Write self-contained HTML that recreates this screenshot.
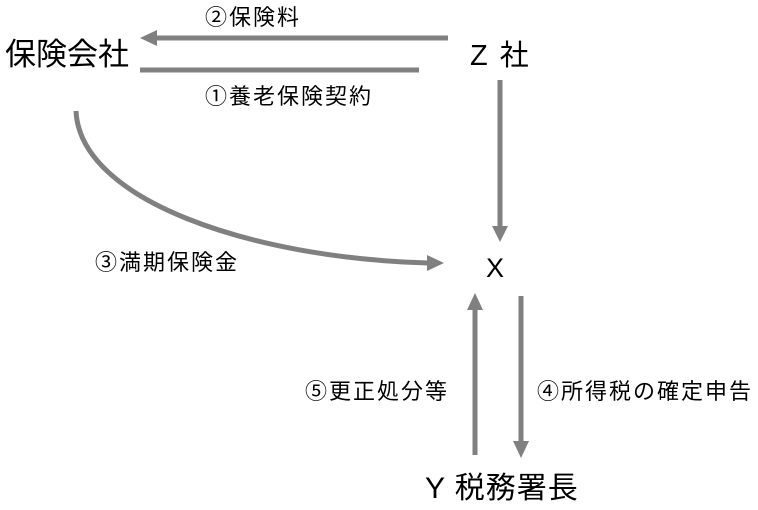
<!DOCTYPE html>
<html><head><meta charset="utf-8"><style>
body{margin:0;background:#fff;width:758px;height:510px;overflow:hidden;position:relative;font-family:"Liberation Sans","Noto Sans CJK JP",sans-serif;color:#000}
.t{position:absolute;white-space:nowrap;line-height:1}
.s{font-size:22px;letter-spacing:2px}
</style></head><body>
<svg width="758" height="510" style="position:absolute;left:0;top:0">
<g stroke="#808080" stroke-width="5" fill="none">
<line x1="448" y1="38" x2="155" y2="38"/>
<line x1="140" y1="70" x2="419" y2="70"/>
<line x1="500" y1="80" x2="500" y2="228"/>
<path d="M76,111 C80,200 250,258 428,263"/>
<line x1="475" y1="455" x2="475" y2="308"/>
<line x1="521" y1="296" x2="521" y2="444"/>
</g>
<g fill="#808080">
<polygon points="140,38 157,30 157,46"/>
<polygon points="500,242 492,226 508,226"/>
<polygon points="444,263 427,255 427,271"/>
<polygon points="475,293 467,310 483,310"/>
<polygon points="521,458 513,441 529,441"/>
</g>
</svg>
<div class="t" style="left:5px;top:39px;font-size:31px">保険会社</div>
<div class="t" style="left:470px;top:42px;font-size:29px;letter-spacing:2px">Z 社</div>
<div class="t s" style="left:205px;top:7px">②保険料</div>
<div class="t s" style="left:205px;top:86px">①養老保険契約</div>
<div class="t s" style="left:95px;top:252px">③満期保険金</div>
<div class="t" style="left:486px;top:255px;font-size:27px">X</div>
<div class="t s" style="left:305px;top:381px">⑤更正処分等</div>
<div class="t s" style="left:537px;top:381px">④所得税の確定申告</div>
<div class="t" style="left:425px;top:474px;font-size:30px;letter-spacing:1px">Y 税務署長</div>
</body></html>
